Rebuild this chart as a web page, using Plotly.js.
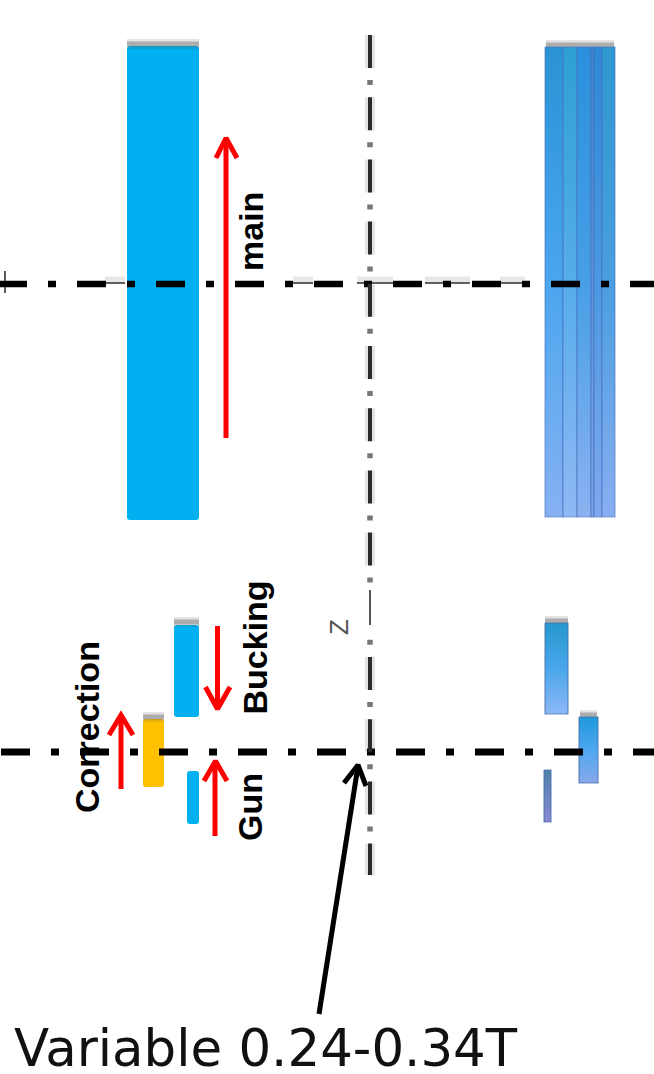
<!DOCTYPE html>
<html>
<head>
<meta charset="utf-8">
<script src="https://cdn.plot.ly/plotly-3.0.1.min.js"></script>
<style>html,body{margin:0;padding:0;background:#fff}#c{width:654px;height:1074px}</style>
</head>
<body>
<div id="c"></div>
<script>
// Filled coil cross-sections, left side
const leftCoilNames = ['main', 'Bucking', 'Gun', 'Correction'];
const leftCoilX0 = [127, 174, 187, 143];
const leftCoilX1 = [199, 199, 199, 164];
const leftCoilTop = [46, 625, 771, 719];
const leftCoilBottom = [520, 717, 824, 787];
const leftCoilColor = ['#00B0F0', '#00B0F0', '#00B0F0', '#FFC000'];

// Right side coils, with simulated field shading
const mainStripEdges = [545, 563, 577, 591, 594, 602, 615];
const mainTop = 47, mainBottom = 517;
const mainStripScales = [
  ['#2a93d4', '#4ba6ee', '#86b1f2'],
  ['#2ea0d4', '#56aceb', '#8fb8f4'],
  ['#2b90dc', '#479fe6', '#8bb2f0'],
  ['#3a86cc', '#5a96dc', '#7ea4e6'],
  ['#2f88d8', '#4b98e2', '#80a8ee'],
  ['#2e98d0', '#4a9ee0', '#88aef0']
];
const rightCoilX0 = [545, 579, 544];
const rightCoilX1 = [568, 598, 551];
const rightCoilTop = [623, 717, 770];
const rightCoilBottom = [714, 783, 822];
const rightCoilScales = [
  ['#2698d0', '#4aa6ea', '#8cb8f6'],
  ['#1f98dc', '#4fa8f0', '#88a8e8'],
  ['#4f7fa8', '#6a88c0', '#8a88d0']
];

// Centre lines
const upperAxisX = [-2, 660], upperAxisY = [284, 284];
const lowerAxisX = [1, 660], lowerAxisY = [752, 752];
const zAxisX = [370, 370];
const zDashRanges = [[35, 575], [657, 875]];
const zThinY = [590, 625];
const zDotY = [80, 875];
const upperThinRuns = [[105, 125], [293, 313], [357, 393], [425, 470], [500, 525]];
const leftTickX = [5, 5], leftTickY = [271, 293];

// Current arrows
const arrowShaftX = [[226, 226], [217.5, 217.5], [121, 121], [215, 215]];
const arrowShaftY = [[438, 139], [626, 708], [789, 716], [836, 762]];
const arrowHeadX = [[216, 226, 237], [205.5, 217.5, 230], [109, 121, 133], [204, 215.5, 227]];
const arrowHeadY = [[158, 138, 158], [687, 709, 687], [735, 715, 735], [781, 761, 781]];
const pointerX = [319, 358], pointerY = [1014, 766];
const pointerHeadX = [344, 358, 366], pointerHeadY = [783, 765, 786];

// Labels
const labelText = ['main', 'Bucking', 'Correction', 'Gun'];
const labelX = [251, 254.5, 87, 250];
const labelY = [232, 648, 727, 807];

const traces = [];

function plainLine(x, y, color, width, dash) {
  const line = {color: color, width: width, simplify: false};
  if (dash) line.dash = dash;
  traces.push({type: 'scatter', mode: 'lines', x: x, y: y, hoverinfo: 'skip', line: line});
}

// faint traces along the upper axis
upperThinRuns.forEach(function (s) {
  plainLine(s, [280, 280], 'rgba(120,120,120,0.18)', 7);
  plainLine(s, [283, 283], 'rgba(60,60,60,0.8)', 2);
});
plainLine(leftTickX, leftTickY, 'rgba(50,50,50,0.8)', 2);

// soft grey shadows above the coils
[[127, 199, 44], [174, 199, 622], [143, 164, 717], [546, 614, 45], [545, 568, 621], [580, 597, 715]].forEach(function (s) {
  plainLine([s[0], s[1]], [s[2], s[2]], 'rgba(90,90,90,0.16)', 10);
  plainLine([s[0], s[1]], [s[2], s[2]], 'rgba(90,90,90,0.4)', 5);
});

// left coils
traces.push({
  type: 'bar',
  x: leftCoilX0.map((v, i) => (v + leftCoilX1[i]) / 2),
  width: leftCoilX0.map((v, i) => leftCoilX1[i] - v),
  base: leftCoilTop,
  y: leftCoilTop.map((v, i) => leftCoilBottom[i] - v),
  text: leftCoilNames, textposition: 'none', hoverinfo: 'text',
  marker: {color: leftCoilColor, line: {width: 0}}
});

function gradientBox(x0, x1, y0, y1, stops, edge) {
  traces.push({
    type: 'scatter', mode: edge ? 'lines' : 'none', fill: 'toself',
    x: [x0, x1, x1, x0, x0], y: [y0, y0, y1, y1, y0], hoverinfo: 'skip',
    line: {color: edge || 'rgba(0,0,0,0)', width: 1.2},
    fillgradient: {type: 'vertical', start: y0, stop: y1,
      colorscale: [[0, stops[0]], [0.5, stops[1]], [1, stops[2]]]}
  });
}

mainStripScales.forEach(function (st, i) {
  gradientBox(mainStripEdges[i], mainStripEdges[i + 1], mainTop, mainBottom, st, 'rgba(70,110,190,0.55)');
});
rightCoilScales.forEach(function (st, i) {
  gradientBox(rightCoilX0[i], rightCoilX1[i], rightCoilTop[i], rightCoilBottom[i], st, 'rgba(70,110,170,0.75)');
});

// centre lines
plainLine(upperAxisX, upperAxisY, '#000', 6.5, '29px,21px,8px,21px');
plainLine(lowerAxisX, lowerAxisY, '#000', 7, '29px,21px,8px,21px');
zDashRanges.forEach(function (r) {
  plainLine(zAxisX, r, 'rgba(60,60,60,0.14)', 10, '33px,29.2px');
  plainLine(zAxisX, r, '#2b2b2b', 4, '33px,29.2px');
});
plainLine(zAxisX, zThinY, '#555', 2);
plainLine(zAxisX, zDotY, '#777', 5.5, '5px,57.2px');

// red arrows
arrowShaftX.forEach(function (x, i) {
  plainLine(x, arrowShaftY[i], '#FF0000', 5);
  plainLine(arrowHeadX[i], arrowHeadY[i], '#FF0000', 5);
});

// black pointer
plainLine(pointerX, pointerY, '#000', 5);
plainLine(pointerHeadX, pointerHeadY, '#000', 5);

const annotations = labelText.map(function (t, i) {
  return {text: t, x: labelX[i], y: labelY[i], xref: 'x', yref: 'y', showarrow: false, textangle: -90,
    xanchor: 'center', yanchor: 'middle',
    font: {family: '"Liberation Sans", Arial, sans-serif', size: 34, color: '#000', weight: 'bold'}};
});
annotations.push({text: 'Variable 0.24-0.34T', x: 266, y: 1048, xref: 'x', yref: 'y', showarrow: false,
  xanchor: 'center', yanchor: 'middle', height: 44, valign: 'middle',
  font: {family: '"DejaVu Sans", sans-serif', size: 51.4, color: '#111'}});
annotations.push({text: 'Z', x: 339, y: 627, xref: 'x', yref: 'y', showarrow: false, textangle: -90,
  xanchor: 'center', yanchor: 'middle',
  font: {family: '"Liberation Sans", Arial, sans-serif', size: 26, color: '#555'}});

const layout = {
  width: 654, height: 1074,
  margin: {l: 0, r: 0, t: 0, b: 0, pad: 0},
  paper_bgcolor: '#fff', plot_bgcolor: '#fff',
  showlegend: false,
  barmode: 'overlay', barcornerradius: 3,
  xaxis: {range: [0, 654], visible: false, fixedrange: true},
  yaxis: {range: [1074, 0], visible: false, fixedrange: true},
  annotations: annotations
};
Plotly.newPlot('c', traces, layout, {displayModeBar: false, staticPlot: true});
</script>
</body>
</html>
